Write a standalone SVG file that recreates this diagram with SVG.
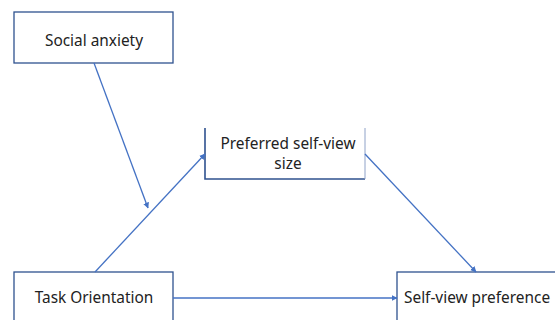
<svg xmlns="http://www.w3.org/2000/svg" width="555" height="320" viewBox="0 0 555 320">
<style>
.box{fill:#fff;stroke:#2f528f;stroke-width:1.3}
.t{font-family:"Noto Sans","Open Sans",sans-serif;font-size:15.4px;fill:#222}
.c{fill:none;stroke:#4472c4;stroke-width:1.3;marker-end:url(#a)}
</style>
<defs>
<marker id="a" viewBox="0 0 10 10" refX="9" refY="5" markerWidth="6" markerHeight="6" markerUnits="userSpaceOnUse" orient="auto">
<path d="M0,0 L10,5 L0,10 z" fill="#4472c4"/>
</marker>
</defs>
<rect width="555" height="320" fill="#fff"/>
<g id="social-anxiety">
<rect class="box" x="14" y="12" width="159" height="51"/>
<text class="t" x="94" y="46" text-anchor="middle">Social anxiety</text>
</g>
<g id="preferred-size">
<rect x="205" y="128" width="160" height="51" fill="#fff"/>
<path d="M205,128 V179 H365" fill="none" stroke="#2f528f" stroke-width="1.6"/>
<path d="M365,128 V179" fill="none" stroke="#8fa2c8" stroke-width="1"/>
<text class="t" x="288" y="149" text-anchor="middle">Preferred self-view</text>
<text class="t" x="288" y="168.5" text-anchor="middle">size</text>
</g>
<g id="task-orientation">
<rect class="box" x="14" y="272" width="159" height="60"/>
<text class="t" x="94" y="303" text-anchor="middle">Task Orientation</text>
</g>
<g id="self-view-preference">
<rect class="box" x="397" y="272" width="170" height="60"/>
<text class="t" x="404" y="303">Self-view preference</text>
</g>
<g id="connectors">
<path class="c" d="M94,63 L148,208"/>
<path class="c" d="M95,272 L205,154"/>
<path class="c" d="M365,154 L476,272"/>
<path class="c" d="M173,298 L397,298"/>
</g>
</svg>
